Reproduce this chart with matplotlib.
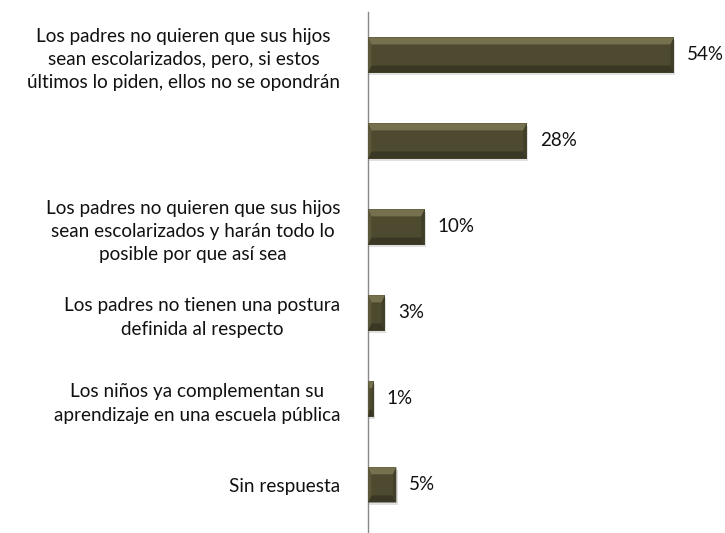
import matplotlib.pyplot as plt
from matplotlib.patches import Polygon

labels = [
    "Los padres no quieren que sus hijos\nsean escolarizados, pero, si estos\núltimos lo piden, ellos no se opondrán",
    "",
    "Los padres no quieren que sus hijos\nsean escolarizados y harán todo lo\nposible por que así sea",
    "Los padres no tienen una postura\ndefinida al respecto",
    "Los niños ya complementan su\naprendizaje en una escuela pública",
    "Sin respuesta",
]
values = [54, 28, 10, 3, 1, 5]

plt.rcParams['font.family'] = ['Lato', 'DejaVu Sans']

fig = plt.figure(figsize=(7.25, 5.33), dpi=100)
ax = fig.add_axes([368 / 725, 0, 340 / 725, 1 - 12 / 533])

ypos = list(range(len(values)))
h = 0.41
main = '#4e4a30'
ax.barh(ypos, values, height=h, color=main, zorder=3)

# shadow + bevel look
for y, v in zip(ypos, values):
    top, bot = y - h / 2, y + h / 2
    ax.barh(y + 0.03, v + 0.25, height=h, left=0.0, color='#000000', alpha=0.12, zorder=2)
    b = min(0.6, v * 0.25)  # bevel width in data units
    bh = h * 0.2
    ax.add_patch(Polygon([(0, top), (v, top), (v - b, top + bh), (b, top + bh)],
                         closed=True, color='#75714f', lw=0, zorder=4))
    ax.add_patch(Polygon([(0, bot), (v, bot), (v - b, bot - bh), (b, bot - bh)],
                         closed=True, color='#3a3724', lw=0, zorder=4))
    ax.add_patch(Polygon([(v, top), (v, bot), (v - b, bot - bh), (v - b, top + bh)],
                         closed=True, color='#423f29', lw=0, zorder=4))
    ax.add_patch(Polygon([(0, top), (0, bot), (b, bot - bh), (b, top + bh)],
                         closed=True, color='#5b573a', lw=0, zorder=4))
    ax.text(v + 2.3, y, f"{v}%", va='center', ha='left', fontsize=13.5, color='#111111')

ax.set_xlim(0, 60)
ax.set_ylim(5.56, -0.5)
ax.set_yticks(ypos)
ax.set_yticklabels(labels, fontsize=13.6, ma='center', linespacing=1.45, color='#111111')
ax.tick_params(axis='y', length=0, pad=20)
ax.set_xticks([])
for s in ['top', 'right', 'bottom']:
    ax.spines[s].set_visible(False)
ax.spines['left'].set_color('#888888')
ax.spines['left'].set_linewidth(1.0)

fig.savefig('out.png', dpi=100)
